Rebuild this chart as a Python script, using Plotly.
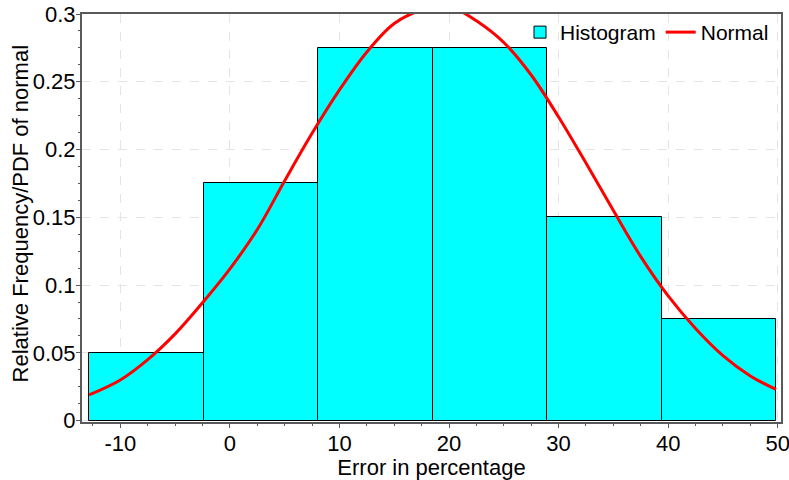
import plotly.graph_objects as go

# ---- data ----
bin_start = [-12.85, -2.4, 8.05, 18.5, 28.95, 39.4]
bin_width = [10.45, 10.45, 10.45, 10.45, 10.45, 10.45]
rel_freq = [0.05, 0.175, 0.275, 0.275, 0.15, 0.075]

curve_x = [-12.85, -10, -7.5, -5, -2.5, 0, 2.5, 5, 7.5, 10, 12.5, 15, 17.5,
           19, 20.5, 22.5, 25, 27.5, 30, 32.5, 35, 37.5, 40, 42.5, 45, 47.5,
           49.85]
curve_y = [0.019, 0.030, 0.045, 0.064, 0.087, 0.112, 0.141, 0.177, 0.212,
           0.244, 0.272, 0.293, 0.303, 0.305, 0.304, 0.295, 0.279, 0.255,
           0.224, 0.190, 0.155, 0.121, 0.092, 0.068, 0.048, 0.033, 0.023]

x_tickvals = [-10, 0, 10, 20, 30, 40, 50]
x_ticktext = ["-10", "0", "10", "20", "30", "40", "50"]
y_tickvals = [0, 0.05, 0.1, 0.15, 0.2, 0.25, 0.3]
y_ticktext = ["0", "0.05", "0.1", "0.15", "0.2", "0.25", "0.3"]

FONT = "Liberation Sans, Arial, sans-serif"
FS = 22

fig = go.Figure()
fig.add_trace(go.Bar(
    x=bin_start, y=rel_freq, width=bin_width, offset=0,
    name="Histogram",
    marker=dict(color="#00FFFF", line=dict(color="#000000", width=1)),
))
fig.add_trace(go.Scatter(
    x=curve_x, y=curve_y, mode="lines", name="Normal",
    line=dict(color="#FF0000", width=3, shape="spline", smoothing=1.0),
))

axis_common = dict(
    showline=True, linecolor="#5a5a5a", linewidth=2, mirror=True,
    ticks="outside", ticklen=4, tickcolor="#5a5a5a", tickwidth=1,
    showgrid=True, gridcolor="#e4e4e4", griddash="dash", gridwidth=1,
    zeroline=False, automargin=False, ticklabeloverflow="allow",
    tickfont=dict(family=FONT, size=FS, color="#000000"),
)

fig.update_layout(
    width=789, height=480,
    margin=dict(l=82, r=8, t=14, b=58),
    paper_bgcolor="white", plot_bgcolor="white",
    bargap=0,
    font=dict(family=FONT, size=FS, color="#000000"),
    showlegend=True,
    legend=dict(
        orientation="h", x=0.99, xanchor="right", y=1.005, yanchor="top",
        bgcolor="rgba(0,0,0,0)", font=dict(family=FONT, size=21),
        itemwidth=30, tracegroupgap=0,
    ),
    xaxis=dict(
        range=[-13.5, 50.3], tickmode="array",
        tickvals=x_tickvals, ticktext=x_ticktext,
        ticklabelstandoff=-3,
        minor=dict(ticks="outside", ticklen=2, tickcolor="#5a5a5a",
                   tick0=0, dtick=2.5, showgrid=False),
        title=dict(text="Error in percentage", font=dict(family=FONT, size=FS)),
        **axis_common,
    ),
    yaxis=dict(
        range=[-0.001, 0.3], tickmode="array",
        tickvals=y_tickvals, ticktext=y_ticktext,
        ticklabelstandoff=-4,
        minor=dict(ticks="outside", ticklen=2, tickcolor="#5a5a5a",
                   tick0=0, dtick=0.0125, showgrid=False),
        **axis_common,
    ),
    annotations=[dict(
        text="Relative Frequency/PDF of normal", textangle=-90,
        xref="paper", yref="paper", x=-0.088, y=0.51,
        xanchor="center", yanchor="middle", showarrow=False,
        font=dict(family=FONT, size=FS, color="#000000"),
    )],
)

fig.write_html("out.html")
